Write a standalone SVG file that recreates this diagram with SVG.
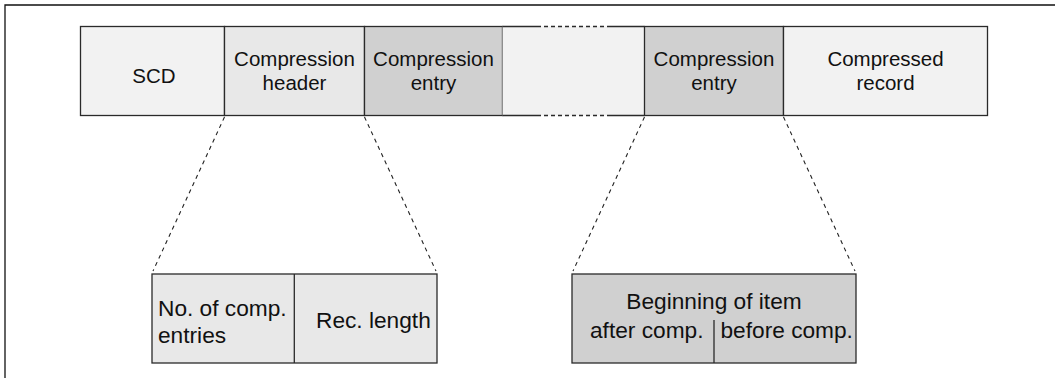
<svg xmlns="http://www.w3.org/2000/svg" width="1055" height="378" viewBox="0 0 1055 378">
<style>
  .box { stroke: #2a2a2a; stroke-width: 1.3; }
  .light { fill: #f2f2f2; }
  .mid { fill: #e8e8e8; }
  .dark { fill: #d0d0d0; }
  .t { font-family: "Liberation Sans", Arial, Helvetica, sans-serif; fill: #111; }
  .up { font-size: 20.5px; text-anchor: middle; }
  .low { font-size: 22.7px; }
  .dash { stroke: #222; stroke-width: 1.1; stroke-dasharray: 4 4; fill: none; }
  .frame { stroke: #111; stroke-width: 1.3; fill: none; }
</style>
<rect width="1055" height="378" fill="#ffffff"/>
<g id="frame">
  <path class="frame" d="M5 378 V5 H1055"/>
</g>
<g id="scd">
  <rect class="box light" x="80.5" y="26.5" width="144" height="89"/>
  <text class="t up" x="154" y="83" font-size="21">SCD</text>
</g>
<g id="compression-header">
  <rect class="box mid" x="224.5" y="26.5" width="140" height="89"/>
  <text class="t up" x="294.5" y="65.5">Compression</text>
  <text class="t up" x="294.5" y="90">header</text>
</g>
<g id="compression-entry-1">
  <rect class="box dark" x="364.5" y="26.5" width="138" height="89"/>
  <text class="t up" x="433.5" y="65.5">Compression</text>
  <text class="t up" x="433.5" y="89.5">entry</text>
</g>
<g id="gap">
  <rect class="light" x="502.5" y="26.5" width="142" height="89"/>
  <path class="box" fill="none" d="M502.5 26.5 H537 M611 26.5 H644.5 M502.5 115.5 H537 M611 115.5 H644.5"/>
  <path class="box" fill="none" stroke-dasharray="4 3" d="M537 26.5 H611 M537 115.5 H611"/>
</g>
<g id="compression-entry-2">
  <rect class="box dark" x="644.5" y="26.5" width="139" height="89"/>
  <text class="t up" x="714" y="65.5">Compression</text>
  <text class="t up" x="714" y="89.5">entry</text>
</g>
<g id="compressed-record">
  <rect class="box light" x="783.5" y="26.5" width="204" height="89"/>
  <text class="t up" x="885.5" y="65.5">Compressed</text>
  <text class="t up" x="885.5" y="90">record</text>
</g>
<g id="connectors">
  <line class="dash" x1="224.5" y1="117" x2="153" y2="271"/>
  <line class="dash" x1="364.5" y1="117" x2="436" y2="271"/>
  <line class="dash" x1="644.5" y1="117" x2="573" y2="271"/>
  <line class="dash" x1="783.5" y1="117" x2="855" y2="271"/>
</g>
<g id="header-detail">
  <rect class="box mid" x="152" y="274" width="285" height="89"/>
  <line class="box" x1="294.3" y1="274" x2="294.3" y2="363"/>
  <text class="t low" x="158" y="316">No. of comp.</text>
  <text class="t low" x="158" y="343">entries</text>
  <text class="t low" x="316" y="328">Rec. length</text>
</g>
<g id="entry-detail">
  <rect class="box dark" x="572" y="274" width="284" height="89"/>
  <line class="box" x1="714" y1="320" x2="714" y2="363"/>
  <text class="t low" x="714" y="309" text-anchor="middle">Beginning of item</text>
  <text class="t low" x="590" y="338">after comp.</text>
  <text class="t low" x="720.5" y="338">before comp.</text>
</g>
</svg>
